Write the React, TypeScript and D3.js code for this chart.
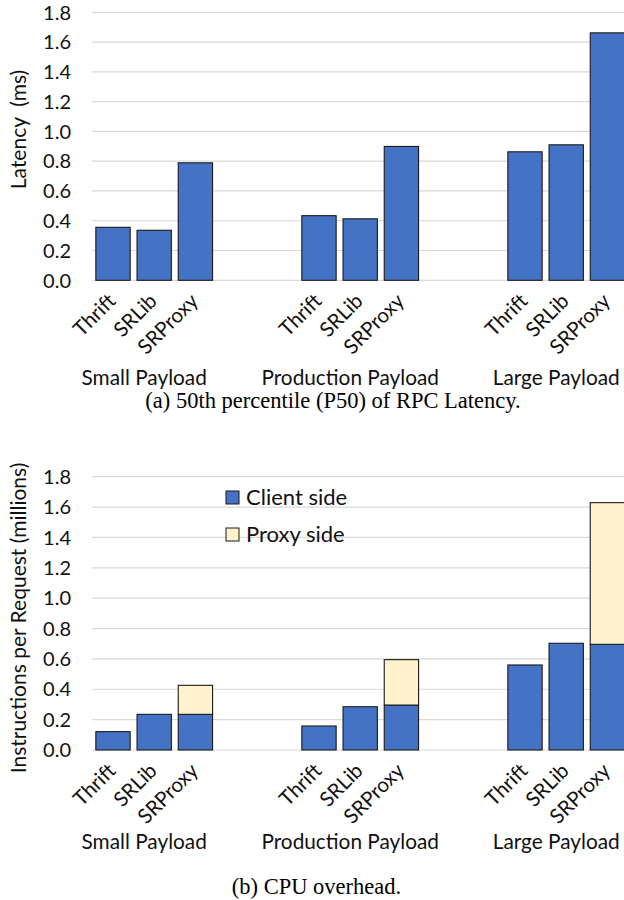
import React from "react";
import * as d3 from "d3";

const groups = ["Small Payload", "Production Payload", "Large Payload"];
const systems = ["Thrift", "SRLib", "SRProxy"];
const latencyMs = [
  [0.356, 0.336, 0.789],
  [0.434, 0.413, 0.899],
  [0.863, 0.91, 1.662],
];
const clientSide = [
  [0.121, 0.235, 0.235],
  [0.158, 0.285, 0.296],
  [0.56, 0.703, 0.696],
];
const proxySide = [
  [0, 0, 0.191],
  [0, 0, 0.299],
  [0, 0, 0.933],
];
const yTicks = [0, 0.2, 0.4, 0.6, 0.8, 1.0, 1.2, 1.4, 1.6, 1.8];
const legendItems = ["Client side", "Proxy side"];

const SANS = "Lato, 'Open Sans', sans-serif";
const SERIF = "'Liberation Serif', 'Times New Roman', serif";
const BLUE = "#4472C4";
const CREAM = "#FFF2CC";
const GRID = "#d9d9d9";

const GAP_SLOTS = 2;
const slotIds = d3.range(groups.length * systems.length + (groups.length - 1) * GAP_SLOTS);
const slotOf = (g: number, s: number) => g * (systems.length + GAP_SLOTS) + s;

const x = d3.scaleBand<number>().domain(slotIds).range([92.4, 628]).paddingInner(0.167).paddingOuter(0.0835);

type Seg = { g: number; s: number; y0: number; y1: number; fill: string };

function Panel({
  top,
  bottom,
  segs,
  yTitle,
  yTitleCenter,
  groupLabelY,
  caption,
  captionX,
  captionY,
  legend,
}: {
  top: number;
  bottom: number;
  segs: Seg[];
  yTitle: string;
  yTitleCenter: number;
  groupLabelY: number;
  caption: string;
  captionX: number;
  captionY: number;
  legend?: boolean;
}) {
  const y = d3.scaleLinear().domain([0, 1.8]).range([bottom, top]);
  const bw = x.bandwidth();
  return (
    <g>
      {yTicks.map((t) => (
        <g key={t}>
          <line x1={92} x2={624} y1={y(t)} y2={y(t)} stroke={GRID} strokeWidth={1.2} />
          <text x={71} y={y(t)} dy="0.36em" textAnchor="end" fontFamily={SANS} fontSize={20} fill="#111">
            {d3.format(".1f")(t)}
          </text>
        </g>
      ))}
      <text
        transform={`translate(26,${yTitleCenter}) rotate(-90)`}
        textAnchor="middle"
        fontFamily={SANS}
        fontSize={21}
        fill="#111"
        style={{ whiteSpace: "pre" }}
      >
        {yTitle}
      </text>
      {segs.map((d, i) => (
        <rect
          key={i}
          x={x(slotOf(d.g, d.s))!}
          y={y(d.y1)}
          width={bw}
          height={y(d.y0) - y(d.y1)}
          fill={d.fill}
          stroke="#1a1a1a"
          strokeWidth={1.1}
        />
      ))}
      {groups.map((gName, g) =>
        systems.map((sName, s) => {
          const cx = x(slotOf(g, s))! + bw / 2;
          return (
            <text
              key={gName + sName}
              transform={`translate(${cx + 4},${bottom + 22}) rotate(-45)`}
              textAnchor="end"
              fontFamily={SANS}
              fontSize={20.5}
              fill="#111"
            >
              {sName}
            </text>
          );
        })
      )}
      {groups.map((gName, g) => {
        const c = (x(slotOf(g, 0))! + x(slotOf(g, systems.length - 1))! + bw) / 2;
        return (
          <text key={gName} x={c - 10} y={groupLabelY} textAnchor="middle" fontFamily={SANS} fontSize={20.8} fill="#111">
            {gName}
          </text>
        );
      })}
      {legend &&
        legendItems.map((name, i) => (
          <g key={name} transform={`translate(226,${491 + i * 37})`}>
            <rect x={0} y={0} width={13} height={13} fill={i === 0 ? BLUE : CREAM} stroke="#1a1a1a" strokeWidth={1} />
            <text x={20} y={6.5} dy="0.36em" fontFamily={SANS} fontSize={22} fill="#111">
              {name}
            </text>
          </g>
        ))}
      <text x={captionX} y={captionY} textAnchor="middle" fontFamily={SERIF} fontSize={22.5} fill="#000">
        {caption}
      </text>
    </g>
  );
}

export default function App() {
  const segsA: Seg[] = [];
  const segsB: Seg[] = [];
  groups.forEach((_, g) =>
    systems.forEach((__, s) => {
      segsA.push({ g, s, y0: 0, y1: latencyMs[g][s], fill: BLUE });
      segsB.push({ g, s, y0: 0, y1: clientSide[g][s], fill: BLUE });
      if (proxySide[g][s] > 0)
        segsB.push({ g, s, y0: clientSide[g][s], y1: clientSide[g][s] + proxySide[g][s], fill: CREAM });
    })
  );
  return (
    <svg width={624} height={900} style={{ position: "absolute", left: 0, top: 0, background: "#fff" }}>
      <rect width={624} height={900} fill="#fff" />
      <Panel
        top={12.3}
        bottom={280.3}
        segs={segsA}
        yTitle="Latency  (ms)"
        yTitleCenter={129.5}
        groupLabelY={385}
        caption="(a) 50th percentile (P50) of RPC Latency."
        captionX={333}
        captionY={408}
      />
      <Panel
        top={476.7}
        bottom={750}
        segs={segsB}
        yTitle="Instructions per Request (millions)"
        yTitleCenter={618}
        groupLabelY={849}
        caption="(b) CPU overhead."
        captionX={316.5}
        captionY={894}
        legend
      />
    </svg>
  );
}
